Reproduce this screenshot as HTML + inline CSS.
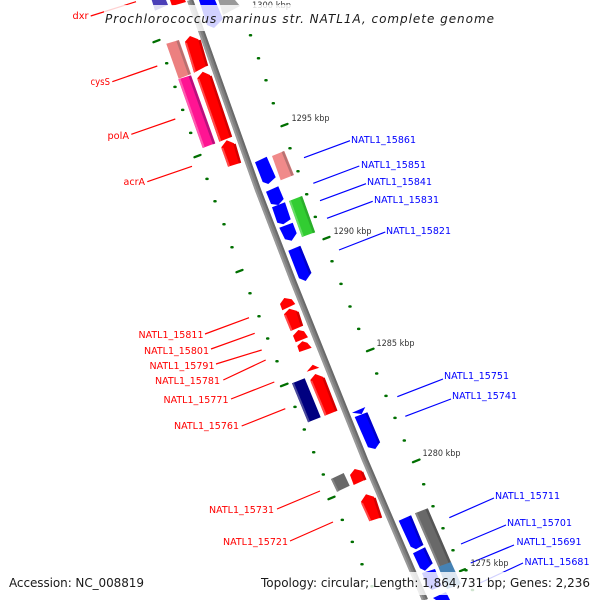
<!DOCTYPE html>
<html><head><meta charset="utf-8"><style>html,body{margin:0;padding:0;background:#fff}svg{display:block}text{font-family:"DejaVu Sans","Liberation Sans",sans-serif}</style></head><body>
<svg width="600" height="600" viewBox="0 0 600 600" xmlns="http://www.w3.org/2000/svg">
<rect width="600" height="600" fill="#fff"/>
<!-- backbone -->
<g fill="none" stroke-linejoin="round">
<path d="M190,0 L202,33 L258,190 L292.7,280 L365,460 L425,600" stroke="#808080" stroke-width="6"/>
<path d="M188,0.7 L200,33.7 L256,190.7 L290.7,280.7 L363,460.7 L423,600.7" stroke="#999" stroke-width="2"/>
<path d="M192,-0.7 L204,32.3 L260,189.3 L294.7,279.3 L367,459.3 L427,599.3" stroke="#6a6a6a" stroke-width="2"/>
</g>
<!-- ticks -->
<g stroke="#006f00" stroke-linecap="round" fill="none" stroke-width="2.300">
<path d="M153.500,42.200 l6,-2.300 M194.500,157.200 l6,-2.300 M236.500,272.200 l6,-2.300 M281,386.200 l6.500,-2.500 M328.500,499.200 l6,-2.500 M281.500,126.200 l6,-2.300 M323.500,239.200 l6,-2.300 M367,351.200 l6.500,-2.500 M413,462.200 l6.500,-2.600 M460,571.200 l5,-2"/>
</g>
<g stroke="#006f00" stroke-linecap="round" fill="none" stroke-width="2.500">
<path d="M166.200,63.200 h1 M174.500,86.900 h1 M182.200,109.900 h1 M190.200,132.900 h1 M206.500,178.900 h1 M214.500,201.200 h1 M223.500,224.200 h1 M231.500,247.200 h1 M249.500,293.300 h1 M258.500,316.200 h1 M267.200,338.500 h1 M276.500,361.200 h1 M294.500,406.900 h1 M303.800,429.500 h1 M313.200,452.200 h1 M322.800,474.500 h1 M341.800,519.900 h1 M351.800,541.900 h1 M361.500,564.200 h1 M371.500,586.200 h1"/>
<path d="M250,35.200 h1 M258,58.200 h1 M265.500,80.200 h1 M272.800,103.200 h1 M289.500,148.200 h1 M297.500,171.200 h1 M306.200,194.200 h1 M314.800,216.900 h1 M331.500,261.200 h1 M340.500,283.900 h1 M349.500,306.500 h1 M358.200,328.900 h1 M376.200,373.500 h1 M385.500,395.900 h1 M394.500,417.900 h1 M403.800,440.500 h1 M423.200,484.200 h1 M432.500,506.200 h1 M442.500,528.200 h1 M452.500,550.200 h1 M465.500,570.200 h1 M472,590 h1"/>
</g>
<!-- top partial genes -->
<polygon points="151.700,0 166,0 168,5 155,10.700" fill="#4a3fb8"/>
<polygon points="170,0 185,0 186,2 172,6" fill="#f00"/>
<polygon points="199,0 215,0 223,19 214,28 207,25" fill="#00f"/>
<polygon points="218.300,0 235,0 240,6 223,15" fill="#999"/>
<!-- genes: red -->
<g fill="#f00">
<polygon points="185,41.700 190,36 198.300,39.300 208,65.300 194,72.700"/>
<polygon points="197.300,78.300 202.700,71.700 210,75 232,136.700 219.300,141.700"/>
<polygon points="221.300,147.300 226.700,140.300 234,143.300 241,162.700 228,166.700"/>
<polygon points="280,304 284.300,298 291.700,299.300 295.300,304 282.300,310.300"/>
<polygon points="284,314.300 289.300,308.700 297.300,311 303,325.700 290.700,331"/>
<polygon points="293,335.700 298.300,330 304,331.300 308,337.300 295.700,342.300"/>
<polygon points="297.300,346 302.300,341.300 307.300,342.700 311.700,347.700 299.300,352"/>
<polygon points="306.700,371.700 312.700,364.700 319.300,367.700"/>
<polygon points="310.300,380 315.300,374 323.300,377 337.300,410.700 324.700,415.700"/>
<polygon points="350,475 354.700,469 361.700,470.700 366.300,479.300 353.700,485"/>
<polygon points="361,501.700 366,494.300 374,496.700 382,517.300 369.300,521.300"/>
</g>
<g stroke="#ff4a4a" stroke-width="2" fill="none">
<path d="M186,43 L195,72 M198.300,79 L220.300,141 M222.300,148 L229,166 M285,315 L291.500,330.500 M311.300,381 L325.700,415 M362,503 L370.300,520.800"/>
</g>
<g stroke="#d40000" stroke-width="2.500" fill="none">
<path d="M199.500,40 L207,66 M210.500,76 L231,137 M234.500,144 L240,163 M297.500,312 L302,326 M323.500,378 L336.300,411 M374.500,498 L381,518 M362,472 L365.300,480"/>
</g>
<!-- genes: coral -->
<polygon points="166.300,43.700 179,40 191,74 178.700,78.700" fill="#ec8080"/>
<path d="M177.500,40.500 L189.500,74.500" stroke="#b87070" stroke-width="2.500"/>
<polygon points="272,156 284.300,151 294,175 280.700,180.300" fill="#f08a8a"/>
<path d="M282.800,151.500 L292.500,175.500" stroke="#b87272" stroke-width="2.500"/>
<!-- polA -->
<polygon points="178.300,79.300 191,75.300 215.300,143.300 202.700,148" fill="#ff1493"/>
<path d="M179.500,79 L203.800,147.700" stroke="#ff5cb0" stroke-width="2"/>
<path d="M189.800,76 L214,144" stroke="#b8107c" stroke-width="2.500"/>
<!-- blue -->
<g fill="#00f">
<polygon points="255,162.300 266.700,156.700 275.700,177.300 268.300,184 262.700,182"/>
<polygon points="266,191.700 278.300,186.300 283.700,199 278.300,205 271,204"/>
<polygon points="272,207.300 285,202.300 290.700,219.300 283.300,224.300 277.300,222.700"/>
<polygon points="279.300,227.700 292.700,222.700 296.700,233.300 291.700,240.700 285,239.300"/>
<polygon points="288.300,250.700 300.300,245.700 311.300,273 305.700,281 299,278.300"/>
<polygon points="352,412.700 365.300,407 361.700,414"/>
<polygon points="354.700,417 367.300,412.300 380,442.300 375.300,449 368,447.300"/>
<polygon points="398.700,520.700 411,515.300 423.300,545 416,549.300 410.700,546.700"/>
<polygon points="413,553.300 425,547.300 432.700,563.300 425,570.700 420,568.300"/>
<polygon points="422,573 435,569 441.700,586 432,590 427,586"/>
<polygon points="433,598 446,592 450,600 436,600"/>
</g>
<g stroke="#0000cc" stroke-width="2.500" fill="none">
<path d="M299.300,246.500 L310.300,273.500 M366.300,413 L379,443 M410,516 L422.300,545.500 M424,548 L431.500,564"/>
</g>
<!-- green -->
<polygon points="289,201 302,196 315,232.300 302,237" fill="#32cd32"/>
<path d="M290,200.800 L303,236.800" stroke="#66dd66" stroke-width="2"/>
<path d="M301,196.500 L314,232.800" stroke="#2aae2a" stroke-width="2.500"/>
<!-- navy -->
<polygon points="292,383.300 304.700,378.300 320.700,417.300 308,422.300" fill="#000080"/>
<path d="M293,383 L309,422" stroke="#4a4a9c" stroke-width="2"/>
<!-- grays -->
<polygon points="331,479 343.700,473 349.700,485.700 337,491.700" fill="#696969"/>
<path d="M332,479 L338,491.500" stroke="#858585" stroke-width="2"/>
<polygon points="415,513.300 427.700,508.300 451,562.700 438.300,566.700" fill="#696969"/>
<path d="M416,513 L439.300,566.500" stroke="#858585" stroke-width="2"/>
<path d="M426.700,509 L450,563" stroke="#555" stroke-width="2.500"/>
<polygon points="438.300,566.700 451,562 461,584 447,589" fill="#4682b4"/>
<!-- connector lines -->
<g stroke="#f00" stroke-width="1.200" fill="none">
<path d="M90.700,16 L136,1.700 M112.300,81.700 L157.300,66 M131.300,134.300 L175.300,119 M147.300,181.700 L192,166.300 M205,334 L249,317.700 M211,349 L254.700,333.300 M216,364 L261.700,350 M223.300,380 L265.700,360 M231,399 L274.300,382 M241.700,426 L285.300,408.700 M277,509 L320,491 M290,541 L333,522"/>
</g>
<g stroke="#00f" stroke-width="1.200" fill="none">
<path d="M304,157.700 L350,140.700 M313.300,183.300 L359.300,166 M320,200.700 L366,183.700 M327,218.300 L372.700,201.300 M339,250 L385.300,232 M397.300,396.700 L443,379 M405.300,416.300 L451,399 M449.300,517.700 L494,498 M461,544 L506,525 M470.700,563 L514,545 M480,583 L523,563"/>
</g>
<!-- kbp labels -->
<g font-size="9" fill="#333">
<text x="252" y="8" textLength="39" lengthAdjust="spacingAndGlyphs">1300 kbp</text>
<text x="291.500" y="121" textLength="38" lengthAdjust="spacingAndGlyphs">1295 kbp</text>
<text x="333.500" y="234" textLength="38" lengthAdjust="spacingAndGlyphs">1290 kbp</text>
<text x="376.500" y="346" textLength="38" lengthAdjust="spacingAndGlyphs">1285 kbp</text>
<text x="422.500" y="456" textLength="38" lengthAdjust="spacingAndGlyphs">1280 kbp</text>
<text x="470.500" y="566" textLength="38" lengthAdjust="spacingAndGlyphs">1275 kbp</text>
</g>
<!-- red labels -->
<g font-size="10" fill="#f00">
<text x="72.500" y="19" textLength="16" lengthAdjust="spacingAndGlyphs">dxr</text>
<text x="90.500" y="85" textLength="19.500" lengthAdjust="spacingAndGlyphs">cysS</text>
<text x="107.500" y="139" textLength="21.500" lengthAdjust="spacingAndGlyphs">polA</text>
<text x="123.500" y="185" textLength="21.500" lengthAdjust="spacingAndGlyphs">acrA</text>
<text x="138.500" y="338" textLength="65" lengthAdjust="spacingAndGlyphs">NATL1_15811</text>
<text x="144" y="354" textLength="65" lengthAdjust="spacingAndGlyphs">NATL1_15801</text>
<text x="149.500" y="369" textLength="65" lengthAdjust="spacingAndGlyphs">NATL1_15791</text>
<text x="155" y="384" textLength="65" lengthAdjust="spacingAndGlyphs">NATL1_15781</text>
<text x="163.500" y="403" textLength="65" lengthAdjust="spacingAndGlyphs">NATL1_15771</text>
<text x="174" y="429" textLength="65" lengthAdjust="spacingAndGlyphs">NATL1_15761</text>
<text x="209" y="513" textLength="65" lengthAdjust="spacingAndGlyphs">NATL1_15731</text>
<text x="223" y="545" textLength="65" lengthAdjust="spacingAndGlyphs">NATL1_15721</text>
</g>
<!-- blue labels -->
<g font-size="10" fill="#00f">
<text x="351" y="143" textLength="65" lengthAdjust="spacingAndGlyphs">NATL1_15861</text>
<text x="361" y="168" textLength="65" lengthAdjust="spacingAndGlyphs">NATL1_15851</text>
<text x="367" y="185" textLength="65" lengthAdjust="spacingAndGlyphs">NATL1_15841</text>
<text x="374" y="203" textLength="65" lengthAdjust="spacingAndGlyphs">NATL1_15831</text>
<text x="386" y="234" textLength="65" lengthAdjust="spacingAndGlyphs">NATL1_15821</text>
<text x="444" y="379" textLength="65" lengthAdjust="spacingAndGlyphs">NATL1_15751</text>
<text x="452" y="399" textLength="65" lengthAdjust="spacingAndGlyphs">NATL1_15741</text>
<text x="495" y="499" textLength="65" lengthAdjust="spacingAndGlyphs">NATL1_15711</text>
<text x="507" y="526" textLength="65" lengthAdjust="spacingAndGlyphs">NATL1_15701</text>
<text x="516.500" y="545" textLength="65" lengthAdjust="spacingAndGlyphs">NATL1_15691</text>
<text x="524.500" y="565" textLength="65" lengthAdjust="spacingAndGlyphs">NATL1_15681</text>
</g>
<!-- translucent text backgrounds -->
<rect x="104" y="5" width="392" height="26" fill="#fff" fill-opacity="0.82"/>
<rect x="256" y="572" width="338" height="23" fill="#fff" fill-opacity="0.82"/>
<rect x="5" y="572" width="145" height="23" fill="#fff" fill-opacity="0.82"/>
<text x="105" y="23" font-size="12" font-style="italic" fill="#1a1a1a" textLength="389" lengthAdjust="spacing">Prochlorococcus marinus str. NATL1A, complete genome</text>
<text x="9" y="587" font-size="12" fill="#1a1a1a" textLength="135" lengthAdjust="spacing">Accession: NC_008819</text>
<text x="261" y="587" font-size="12" fill="#1a1a1a" textLength="329" lengthAdjust="spacing">Topology: circular; Length: 1,864,731 bp; Genes: 2,236</text>
</svg>
</body></html>
